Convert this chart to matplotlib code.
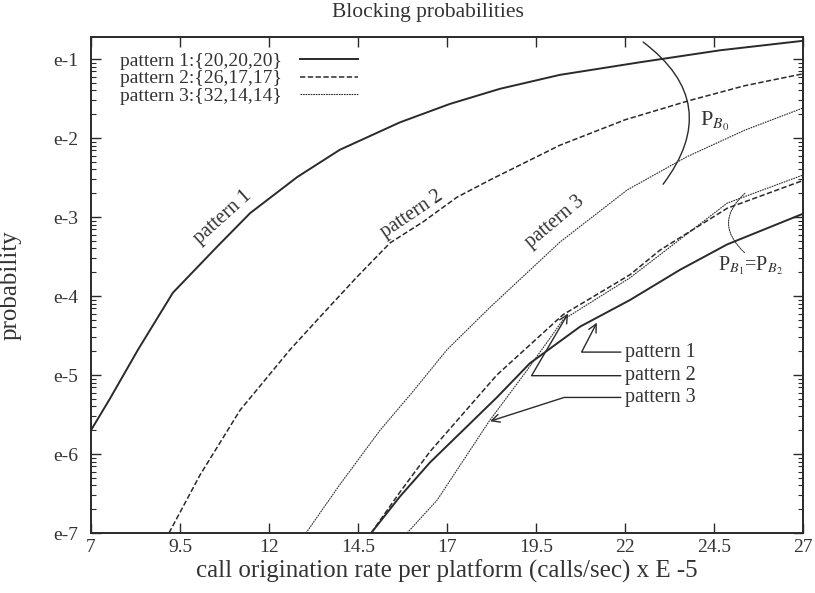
import numpy as np
import matplotlib
matplotlib.use("Agg")
from matplotlib import pyplot as plt
from matplotlib.ticker import FixedLocator, FixedFormatter, LogLocator, NullFormatter

plt.rcParams['font.family'] = ['Liberation Serif', 'DejaVu Serif']
plt.rcParams['mathtext.fontset'] = 'stix'

# upper group of curves: P_B0
x_p1_b0 = [7, 7.53, 8.32, 9.3, 10.54, 11.47, 12.79, 13.99, 15.68, 17.08, 18.49,
           20.17, 22.42, 24.67, 27]
y_p1_b0 = [2.0e-6, 5.0e-6, 2.09e-5, 1.10e-4, 4.2e-4, 1.12e-3, 3.2e-3, 7.1e-3,
           1.58e-2, 2.7e-2, 4.2e-2, 6.3e-2, 9.1e-2, 0.129, 0.17]

x_p2_b0 = [9.19, 10.06, 11.19, 12.59, 13.52, 14.47, 15.4, 16.33, 17.28, 18.21,
           20.17, 22.0, 23.83, 25.37, 27]
y_p2_b0 = [1e-7, 5.4e-7, 3.6e-6, 2.09e-5, 6.0e-5, 1.74e-4, 4.7e-4, 8.7e-4, 1.78e-3,
           2.95e-3, 8.1e-3, 1.7e-2, 3.0e-2, 4.6e-2, 6.5e-2]

x_p3_b0 = [13.04, 13.99, 15.12, 16.02, 17.0, 18.21, 20.17, 22.06, 23.74, 25.37, 27]
y_p3_b0 = [1e-7, 4.1e-7, 2.0e-6, 6.0e-6, 2.09e-5, 7.2e-5, 4.8e-4, 2.2e-3, 5.8e-3,
           1.26e-2, 2.4e-2]

# lower group of curves: P_B1 = P_B2
x_p1_b1 = [14.87, 15.68, 16.52, 18.4, 19.33, 20.74, 22.14, 23.54, 24.87, 27]
y_p1_b1 = [1e-7, 2.9e-7, 7.8e-7, 5.2e-6, 1.41e-5, 4.1e-5, 8.9e-5, 2.14e-4, 4.5e-4, 1.1e-3]

x_p2_b1 = [14.87, 15.68, 16.52, 18.4, 20.26, 22.14, 22.98, 24.87, 27]
y_p2_b1 = [1e-7, 3.3e-7, 1.07e-6, 1.0e-5, 5.8e-5, 1.86e-4, 3.8e-4, 1.29e-3, 2.9e-3]

x_p3_b1 = [15.88, 16.72, 18.21, 19.25, 20.26, 22.14, 24.87, 27]
y_p3_b1 = [1e-7, 2.6e-7, 2.7e-6, 1.15e-5, 5.0e-5, 1.7e-4, 1.5e-3, 3.4e-3]

legend_labels = ["pattern 1:{20,20,20}", "pattern 2:{26,17,17}", "pattern 3:{32,14,14}"]
x_ticks = [7, 9.5, 12, 14.5, 17, 19.5, 22, 24.5, 27]
y_ticks = [1e-7, 1e-6, 1e-5, 1e-4, 1e-3, 1e-2, 1e-1]
y_tick_labels = ["e-7", "e-6", "e-5", "e-4", "e-3", "e-2", "e-1"]

ink = "#2a2a2a"
txt = "#333333"
s1 = dict(color=ink, lw=1.4, ls="-")
s2 = dict(color=ink, lw=1.1, ls=(0, (3.5, 1.6)))
s3 = dict(color=ink, lw=0.8, ls=(0, (1.5, 0.8)))

fig = plt.figure(figsize=(8.15, 5.93), dpi=100)
ax = fig.add_axes([91 / 815, 1 - 533 / 593, 712 / 815, 496 / 593])

ax.plot(x_p1_b0, y_p1_b0, label=legend_labels[0], **s1)
ax.plot(x_p2_b0, y_p2_b0, label=legend_labels[1], **s2)
ax.plot(x_p3_b0, y_p3_b0, label=legend_labels[2], **s3)
ax.plot(x_p1_b1, y_p1_b1, **s1)
ax.plot(x_p2_b1, y_p2_b1, **s2)
ax.plot(x_p3_b1, y_p3_b1, **s3)

ax.set_yscale("log")
ax.set_xlim(7, 27)
ax.set_ylim(1e-7, 0.19)
ax.xaxis.set_major_locator(FixedLocator(x_ticks))
ax.set_xticklabels([f"{t:g}" for t in x_ticks])
ax.yaxis.set_major_locator(FixedLocator(y_ticks))
ax.yaxis.set_major_formatter(FixedFormatter(y_tick_labels))
ax.yaxis.set_minor_locator(LogLocator(base=10, subs=np.arange(2, 10)))
ax.yaxis.set_minor_formatter(NullFormatter())
ax.tick_params(which="both", direction="in", top=True, right=True, colors=ink,
               labelsize=14, labelcolor=txt)
ax.tick_params(which="major", length=7, width=1)
ax.tick_params(which="minor", length=3.5, width=0.8)
ax.tick_params(axis="x", pad=4)
ax.tick_params(axis="y", pad=9)
for sp in ax.spines.values():
    sp.set_color(ink)
    sp.set_linewidth(1.4)

ax.set_xlabel("call origination rate per platform (calls/sec) x E -5",
              fontsize=18, color=txt, labelpad=3)
ax.set_ylabel("probability", fontsize=18, color=txt)
ax.yaxis.set_label_coords(-0.097, 0.5)
fig.text(428 / 815, 1 - 13 / 593, "Blocking probabilities", ha="center", va="center",
         fontsize=15.5, color=txt)

leg = ax.legend(loc="upper left", bbox_to_anchor=(0.03, 0.985), frameon=False,
                markerfirst=False, handlelength=3.0, fontsize=14,
                labelspacing=0.0, handletextpad=0.9, borderaxespad=0)
for t in leg.get_texts():
    t.set_color(txt)

# curve labels
ax.text(10.71, 1.0e-3, "pattern 1", rotation=42, fontsize=14.5, color=txt,
        ha="center", va="center")
ax.text(16.02, 1.07e-3, "pattern 2", rotation=34, fontsize=14.5, color=txt,
        ha="center", va="center")
ax.text(20.03, 8.7e-4, "pattern 3", rotation=40, fontsize=14.5, color=txt,
        ha="center", va="center")

# P_B0 bracket arc
ax.annotate("", xy=(23.07, 2.6e-3), xytext=(22.51, 0.164),
            arrowprops=dict(arrowstyle="-", color=ink, lw=1.0,
                            connectionstyle="arc3,rad=-0.5", shrinkA=0, shrinkB=0))
ax.text(24.11, 1.6e-2, r"P$_{B_0}$", fontsize=16, color=txt, ha="left", va="center")

# P_B1 = P_B2 bracket arc
ax.annotate("", xy=(25.37, 3.5e-4), xytext=(25.37, 2.0e-3),
            arrowprops=dict(arrowstyle="-", color=ink, lw=0.7, ls=(0, (1.5, 1)),
                            connectionstyle="arc3,rad=0.55", shrinkA=0, shrinkB=0))
ax.text(25.51, 2.4e-4, r"P$_{B_1}$=P$_{B_2}$", fontsize=14.5, color=txt,
        ha="center", va="center")

# arrow labels for the lower curves
arrow_txt = [("pattern 1", (22.0, 1.95e-5), (21.21, 4.6e-5), 62.6),
             ("pattern 2", (22.0, 9.8e-6), (20.40, 6.0e-5), 59.6),
             ("pattern 3", (22.0, 5.2e-6), (18.21, 2.6e-6), 17.8)]
for label, txt_pos, tip, ang in arrow_txt:
    ax.annotate(label, xy=tip, xytext=txt_pos, fontsize=14.5, color=txt,
                ha="left", va="center",
                arrowprops=dict(arrowstyle="->", color=ink, lw=1.0, shrinkA=1, shrinkB=0,
                                connectionstyle=f"angle,angleA=0,angleB={ang},rad=0"))

fig.savefig("out.png", dpi=100, facecolor="white")
